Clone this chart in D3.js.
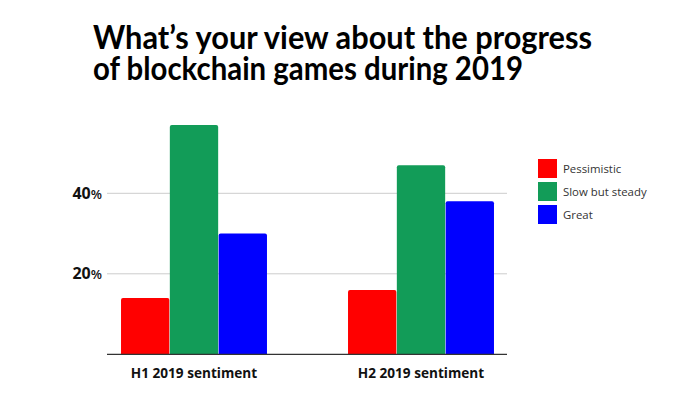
<!DOCTYPE html>
<html>
<head>
<meta charset="utf-8">
<script src="https://cdn.jsdelivr.net/npm/d3@7"></script>
<style>
  html, body { margin: 0; padding: 0; background: #fff; }
  svg { display: block; font-family: "Open Sans", "Noto Sans", sans-serif; }
</style>
</head>
<body>
<svg id="chart" width="700" height="394"></svg>
<script>
const titleLines = ["What\u2019s your view about the progress", "of blockchain games during 2019"];
const categories = ["H1 2019 sentiment", "H2 2019 sentiment"];
const seriesNames = ["Pessimistic", "Slow but steady", "Great"];
const seriesColors = ["#ff0000", "#129c58", "#0000ff"];
const pessimistic = [14, 16];
const slowButSteady = [57, 47];
const great = [30, 38];
const yTicks = [20, 40];

const seriesValues = [pessimistic, slowButSteady, great];

const svg = d3.select("#chart");

const y = d3.scaleLinear().domain([0, 20]).range([354.3, 273.8]);
const x0 = d3.scaleBand().domain(categories).range([80.5, 534.5]).paddingInner(0.357).paddingOuter(0.1785);
const x1 = d3.scaleBand().domain(seriesNames).range([0, x0.bandwidth()]).paddingInner(0.01);

// title
const titleWidths = [499, 430];
svg.append("g").selectAll("text").data(titleLines).join("text")
  .attr("x", 93).attr("y", (d, i) => 49 + i * 31)
  .attr("font-family", "Lato, 'Open Sans', sans-serif")
  .attr("font-size", 33).attr("font-weight", 700).attr("fill", "#000")
  .attr("textLength", (d, i) => titleWidths[i]).attr("lengthAdjust", "spacingAndGlyphs")
  .text(d => d);

// gridlines
svg.append("g").selectAll("line").data(yTicks).join("line")
  .attr("x1", 107).attr("x2", 507)
  .attr("y1", d => y(d)).attr("y2", d => y(d))
  .attr("stroke", "#cccccc").attr("stroke-width", 1);

// y labels
const yl = svg.append("g").selectAll("text").data(yTicks).join("text")
  .attr("x", 102).attr("y", d => y(d) + 5.5)
  .attr("text-anchor", "end").attr("fill", "#111");
yl.append("tspan").attr("font-size", 16).attr("font-weight", 700).text(d => d);
yl.append("tspan").attr("font-size", 13).attr("font-weight", 600).text("%");

// bars
const groups = svg.append("g").selectAll("g").data(categories).join("g")
  .attr("transform", c => `translate(${x0(c)},0)`);
groups.selectAll("path").data((c, ci) => seriesNames.map((s, si) => ({s, v: seriesValues[si][ci], si})))
  .join("path")
  .attr("fill", d => seriesColors[d.si])
  .attr("d", d => {
    const bx = x1(d.s), bw = x1.bandwidth(), top = y(d.v), bot = y(0), r = 2;
    return `M${bx},${bot}V${top + r}Q${bx},${top} ${bx + r},${top}H${bx + bw - r}Q${bx + bw},${top} ${bx + bw},${top + r}V${bot}Z`;
  });

// baseline
svg.append("line").attr("x1", 107).attr("x2", 507)
  .attr("y1", y(0)).attr("y2", y(0))
  .attr("stroke", "#333").attr("stroke-width", 1.3);

// x labels
svg.append("g").selectAll("text").data(categories).join("text")
  .attr("x", c => x0(c) + x0.bandwidth() / 2).attr("y", 377.5)
  .attr("text-anchor", "middle").attr("font-size", 13.6).attr("font-weight", 700).attr("fill", "#111")
  .text(c => c);

// legend
const lg = svg.append("g").selectAll("g").data(seriesNames).join("g")
  .attr("transform", (d, i) => `translate(538,${159 + i * 23})`);
lg.append("rect").attr("width", 19).attr("height", 19).attr("fill", (d, i) => seriesColors[i]);
lg.append("text").attr("x", 25).attr("y", 14).attr("font-size", 11.4).attr("fill", "#333").text(d => d);
</script>
</body>
</html>
